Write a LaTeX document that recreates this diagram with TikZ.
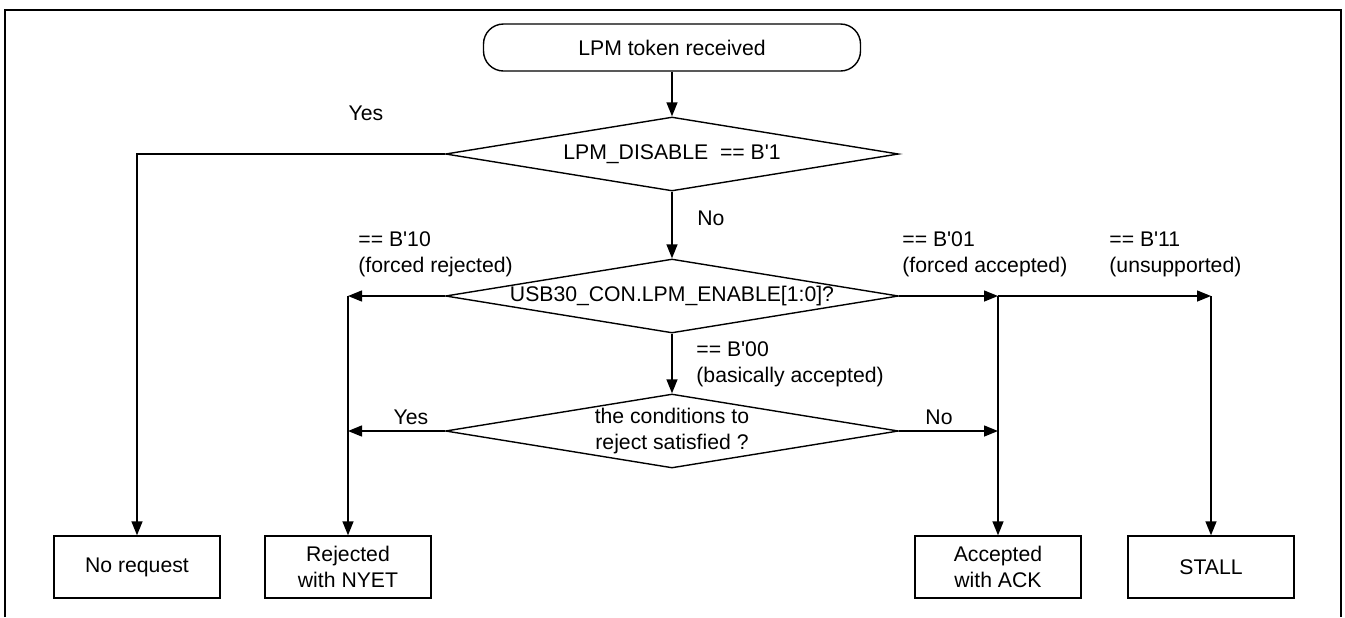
\documentclass[tikz,border=0pt]{standalone}
\usepackage{fontspec}
\setmainfont{Liberation Sans}
\usetikzlibrary{shapes.geometric,arrows.meta}
\newcommand{\tick}{\textquotesingle}

\begin{document}
\begin{tikzpicture}[x=0.5pt,y=-0.5pt,
        every node/.style={font=\fontsize{10.6}{13}\selectfont},
        decision/.style={draw,diamond,aspect=6,line width=0.7pt,inner sep=0pt,align=center,minimum width=226.5pt,minimum height=37pt},
        result/.style={draw,rectangle,line width=0.7pt,align=center,minimum width=83pt,minimum height=31pt},
        flow/.style={line width=0.7pt,-{Triangle[length=7pt,width=5.5pt]}},
        branch/.style={align=left,anchor=west,inner sep=0pt}]
        \useasboundingbox (0,0) rectangle (1345,617);
        % Frame
        \draw[line width=1pt] (5,617) -- (5,10) -- (1341,10) -- (1341,617);
        % Start
        \node[draw,rectangle,rounded corners=10pt,line width=0.7pt,minimum width=188.5pt,minimum height=23.5pt] (start) at (672,47.5) {LPM token received};
        % Decisions
        \node[decision] (disable) at (672,154) {LPM\_DISABLE \ == B\tick1};
        \node[decision] (enable) at (672,296) {USB30\_CON.LPM\_ENABLE[1:0]?};
        \node[decision] (reject) at (672,431) {the conditions to\\reject satisfied ?};
        % Results
        \node[result] (none) at (137,567) {No request};
        \node[result] (nyet) at (348,567) {Rejected\\with NYET};
        \node[result] (ack) at (998,567) {Accepted\\with ACK};
        \node[result] (stall) at (1211,567) {STALL};
        % Junctions
        \coordinate (nyetA) at (nyet.north |- enable.west);
        \coordinate (nyetB) at (nyet.north |- reject.west);
        \coordinate (ackA) at (ack.north |- enable.east);
        \coordinate (ackB) at (ack.north |- reject.east);
        \coordinate (stallA) at (stall.north |- enable.east);
        % Connectors
        \draw[flow] (start) -- (disable);
        \draw[flow] (disable.west) -| (none.north);
        \draw[flow] (disable) -- (enable);
        \draw[flow] (enable) -- (reject);
        \draw[flow] (enable.west) -- (nyetA);
        \draw[flow] (nyetA) -- (nyet.north);
        \draw[flow] (reject.west) -- (nyetB);
        \draw[flow] (enable.east) -- (ackA);
        \draw[flow] (ackA) -- (stallA);
        \draw[flow] (ackA) -- (ack.north);
        \draw[flow] (stallA) -- (stall.north);
        \draw[flow] (reject.east) -- (ackB);
        % Labels
        \node (yesA) at (366,113) {Yes};
        \node[branch] (noA) at (697,218) {No};
        \node[branch] (b10) at (358,254) {== B\tick10\\(forced rejected)};
        \node[branch] (b01) at (902,254) {== B\tick01\\(forced accepted)};
        \node[branch] (b11) at (1109,254) {== B\tick11\\(unsupported)};
        \node[branch] (b00) at (696,364) {== B\tick00\\(basically accepted)};
        \node (yesB) at (411,417) {Yes};
        \node (noB) at (939,417) {No};
    \end{tikzpicture}
\end{document}
